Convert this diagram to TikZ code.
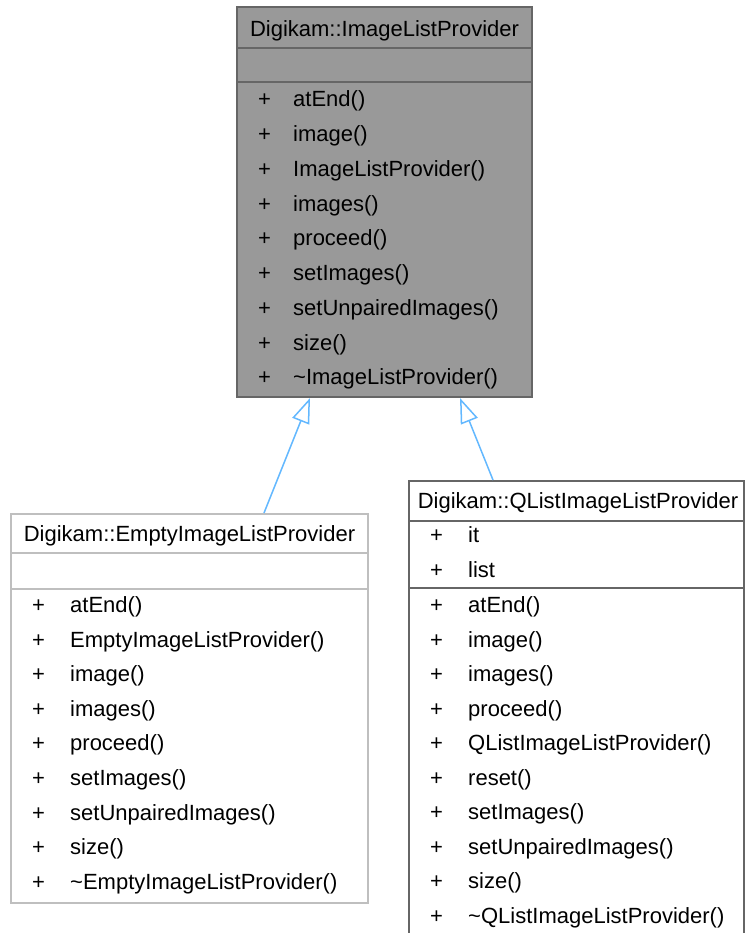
\documentclass[tikz,border=0pt]{standalone}
\usepackage{fontspec}
\setmainfont{Liberation Sans}
\usetikzlibrary{arrows.meta}
\definecolor{topfill}{HTML}{999999}
\definecolor{dark}{HTML}{666666}
\definecolor{light}{HTML}{BFBFBF}
\definecolor{inh}{HTML}{63B8FF}
\tikzset{
  boxtop/.style={draw=dark, fill=topfill, line width=1.5pt},
  boxleft/.style={draw=light, fill=white, line width=1.5pt},
  boxright/.style={draw=dark, fill=white, line width=1.5pt},
  txt/.style={inner sep=0pt, anchor=base west, font=\fontsize{22}{26}\selectfont},
  hdr/.style={inner sep=0pt, anchor=base, font=\fontsize{22}{26}\selectfont},
  inherit/.style={draw=inh, line width=1.5pt, -{Triangle[length=25pt,width=18pt,fill=white]}}
}
\begin{document}
\begin{tikzpicture}[x=1pt,y=-1pt]
\useasboundingbox (0,0) rectangle (745,933);
% top box
\path[boxtop] (237,7) rectangle (532,397);
\draw[dark, line width=1.5pt] (237,48) -- (532,48) (237,82) -- (532,82);
\node[hdr] (hb) at (384.5,37) {Digikam::ImageListProvider};
\foreach \t [count=\i from 0] in {atEnd(),image(),ImageListProvider(),images(),proceed(),setImages(),setUnpairedImages(),size(),\textasciitilde ImageListProvider()}{
  \node[txt] (bp\i) at (258,{99.4+\i*34.75+7.5}) {+};
  \node[txt] (bm\i) at (293,{99.4+\i*34.75+7.5}) {\t};
}
% left box
\path[boxleft] (11,514) rectangle (368,903);
\draw[light, line width=1.5pt] (11,553) -- (368,553) (11,589) -- (368,589);
\node[hdr] (lh) at (189.5,541) {Digikam::EmptyImageListProvider};
\foreach \t [count=\i from 0] in {atEnd(),EmptyImageListProvider(),image(),images(),proceed(),setImages(),setUnpairedImages(),size(),\textasciitilde EmptyImageListProvider()}{
  \node[txt] (lp\i) at (32,{605+\i*34.6+7.5}) {+};
  \node[txt] (lm\i) at (70,{605+\i*34.6+7.5}) {\t};
}
% right box
\path[boxright] (409,481) rectangle (744,945);
\draw[dark, line width=1.5pt] (409,521) -- (744,521) (409,588) -- (744,588);
\node[hdr] (rh) at (578,508) {Digikam::QListImageListProvider};
\node[txt] (ra0) at (430,{535+7.5}) {+};
\node[txt] (ran0) at (468,{535+7.5}) {it};
\node[txt] (ra1) at (430,{570+7.5}) {+};
\node[txt] (ran1) at (468,{570+7.5}) {list};
\foreach \t [count=\i from 0] in {atEnd(),image(),images(),proceed(),QListImageListProvider(),reset(),setImages(),setUnpairedImages(),size(),\textasciitilde QListImageListProvider()}{
  \node[txt] (rp\i) at (430,{605+\i*34.56+7.5}) {+};
  \node[txt] (rm\i) at (468,{605+\i*34.56+7.5}) {\t};
}
% inheritance connectors
\coordinate (lsrc) at (264,513);
\coordinate (ltip) at (310,398);
\coordinate (rsrc) at (493,480);
\coordinate (rtip) at (460,398);
\draw[inherit] (lsrc) -- (ltip);
\draw[inherit] (rsrc) -- (rtip);
\end{tikzpicture}
\end{document}
